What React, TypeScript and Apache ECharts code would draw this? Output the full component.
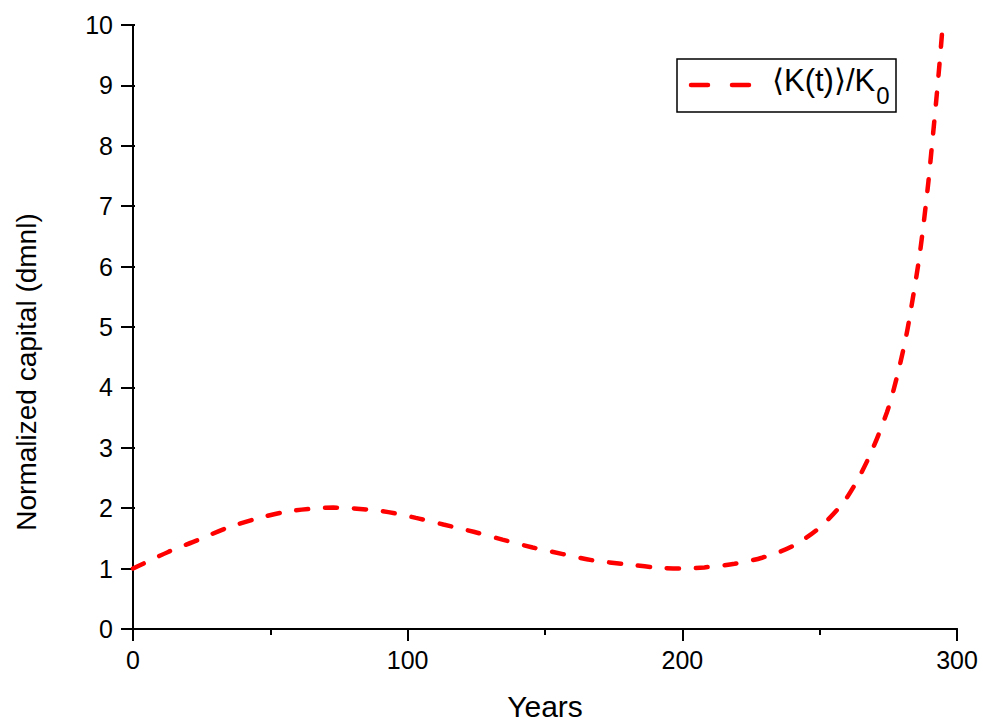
import React, { useEffect, useRef } from "react";
import * as echarts from "echarts";

const years = [0, 13, 23.5, 34, 44.5, 55.5, 67.5, 73, 79, 91, 103, 113, 124, 134.5, 145.5, 156.5, 167, 180, 190, 200, 208, 219, 229, 240, 250, 259.5, 267.5, 274.5, 278, 281.5, 284, 286.2, 288, 289.6, 291, 292.3, 293.6, 294.8];
const capital = [1.0, 1.28, 1.47, 1.67, 1.82, 1.94, 2.0, 2.01, 2.0, 1.95, 1.84, 1.73, 1.61, 1.48, 1.35, 1.24, 1.14, 1.07, 1.02, 1.0, 1.02, 1.08, 1.18, 1.37, 1.68, 2.15, 2.8, 3.59, 4.15, 4.85, 5.5, 6.13, 6.77, 7.41, 8.06, 8.68, 9.34, 10.0];

const xTicks = [0, 100, 200, 300];
const yTicks = [0, 1, 2, 3, 4, 5, 6, 7, 8, 9, 10];
const seriesName = "⟨K(t)⟩/K0";
const xTitle = "Years";
const yTitle = "Normalized capital (dmnl)";

const FONT = "'Liberation Sans', Arial, sans-serif";

export default function App() {
  const ref = useRef<HTMLDivElement>(null);
  useEffect(() => {
    if (!ref.current) return;
    const chart = echarts.init(ref.current, null, { renderer: "svg" });
    const data = years.map((t, i) => [t, capital[i]]);
    const axisLine = { show: true, lineStyle: { color: "#000", width: 2 } };
    chart.setOption({
      animation: false,
      backgroundColor: "#fff",
      grid: { left: 133, right: 26, top: 25, bottom: 95 },
      xAxis: [
        {
          type: "value",
          min: xTicks[0],
          max: xTicks[xTicks.length - 1],
          interval: xTicks[1] - xTicks[0],
          name: xTitle,
          nameLocation: "middle",
          nameGap: 62,
          nameTextStyle: { fontSize: 30, color: "#000", fontFamily: FONT },
          axisLine,
          axisTick: { show: true, inside: false, length: 12, lineStyle: { color: "#000", width: 2 } },
          minorTick: { show: true, splitNumber: 2, length: 6, lineStyle: { color: "#000", width: 2 } },
          splitLine: { show: false },
          axisLabel: { fontSize: 25, color: "#000", fontFamily: FONT, margin: 18 },
        },
        {
          type: "value",
          position: "top",
          min: xTicks[0],
          max: xTicks[xTicks.length - 1],
          interval: xTicks[1] - xTicks[0],
          axisLine,
          axisTick: { show: false },
          axisLabel: { show: false },
          splitLine: { show: false },
        },
      ],
      yAxis: [
        {
          type: "value",
          min: yTicks[0],
          max: yTicks[yTicks.length - 1],
          interval: yTicks[1] - yTicks[0],
          axisLine,
          axisTick: { show: true, inside: false, length: 12, lineStyle: { color: "#000", width: 2 } },
          splitLine: { show: false },
          axisLabel: { fontSize: 25, color: "#000", fontFamily: FONT, margin: 20 },
        },
        {
          type: "value",
          position: "right",
          min: yTicks[0],
          max: yTicks[yTicks.length - 1],
          interval: yTicks[1] - yTicks[0],
          axisLine,
          axisTick: { show: true, inside: false, length: 2, lineStyle: { color: "#000", width: 2 } },
          axisLabel: { show: false },
          splitLine: { show: false },
        },
      ],
      series: [
        {
          type: "line",
          name: seriesName,
          data,
          showSymbol: false,
          symbol: "none",
          smooth: 0.3,
          clip: true,
          lineStyle: { color: "#ff0000", width: 4.5, type: [12, 17], cap: "round" },
        },
      ],
      graphic: [
        {
          type: "text",
          x: 26,
          y: 372,
          rotation: Math.PI / 2,
          style: {
            text: yTitle,
            fontSize: 28,
            fontFamily: FONT,
            fill: "#000",
            align: "center",
            verticalAlign: "middle",
          },
        },
        {
          type: "rect",
          shape: { x: 677, y: 59, width: 219, height: 53 },
          style: { fill: "#fff", stroke: "#000", lineWidth: 1.5 },
        },
        {
          type: "line",
          shape: { x1: 691, y1: 85, x2: 750, y2: 85 },
          style: { stroke: "#ff0000", lineWidth: 4.5, lineDash: [17, 24], lineCap: "round" },
        },
        {
          type: "text",
          x: 772,
          y: 65,
          style: {
            text: "{m|⟨K(t)⟩/K}{s|0}",
            rich: {
              m: { fontSize: 31, fontFamily: FONT, fill: "#000", lineHeight: 34, verticalAlign: "top" },
              s: { fontSize: 24, fontFamily: FONT, fill: "#000", lineHeight: 26, padding: [18, 0, 0, 1], verticalAlign: "top" },
            },
            align: "left",
            verticalAlign: "top",
          },
        },
      ],
    });
    return () => chart.dispose();
  }, []);
  return (
    <div
      ref={ref}
      style={{ position: "fixed", left: 0, top: 0, width: 983, height: 726, background: "#fff" }}
    />
  );
}
